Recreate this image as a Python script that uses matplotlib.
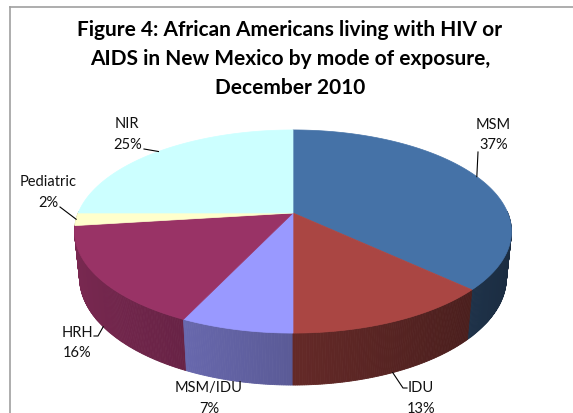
import numpy as np
import matplotlib
matplotlib.use("Agg")
import matplotlib.pyplot as plt
from matplotlib.patches import Polygon
import matplotlib.colors as mcolors

# ---------------- data ----------------
categories = ["MSM", "IDU", "MSM/IDU", "HRH", "Pediatric", "NIR"]
values = [37, 13, 7, 16, 2, 25]
colors = ["#4572A7", "#AA4643", "#9999FF", "#993366", "#FFFFCC", "#CCFFFF"]
title_lines = ["Figure 4: African Americans living with HIV or",
               "AIDS in New Mexico by mode of exposure,",
               "December 2010"]

# ---------------- layout ----------------
W, H = 573, 413
CX, CY = 293, 213          # screen position of pie centre (top face)
PHI = np.radians(27.2)     # elevation
S, C = np.sin(PHI), np.cos(PHI)
DIST = 4.879               # camera distance (in radii)
FOC = 1048                 # focal length in px
THICK = 0.243              # pie thickness (in radii)

# label layout: name pos, pct pos, leader start, elbow, rim for anchor
label_layout = {
    "MSM":       dict(name=(493, 125), pct=(494, 145), start=(478, 152), elbow=None, rim="top"),
    "IDU":       dict(name=(421, 388), pct=(421, 409), start=(407, 388), elbow=(403, 388), rim="bottom"),
    "MSM/IDU":   dict(name=(209, 388), pct=(209, 409), start=None, elbow=None, rim="bottom"),
    "HRH":       dict(name=(77.5, 333), pct=(77.5, 353), start=(94, 336), elbow=(98, 336), rim="bottom"),
    "Pediatric": dict(name=(48, 182), pct=(48, 203), start=(60, 207), elbow=None, rim="top"),
    "NIR":       dict(name=(127, 124), pct=(128, 145), start=(144, 149), elbow=None, rim="top"),
}

plt.rcParams["font.family"] = ["Lato", "DejaVu Sans"]

fig = plt.figure(figsize=(W / 100, H / 100), dpi=100)
ax = fig.add_axes([0, 0, 1, 1])
ax.set_xlim(0, W)
ax.set_ylim(H, 0)
ax.axis("off")


def proj(X, Y, Z):
    depth = DIST + Y * C - Z * S
    return CX + X * FOC / depth, CY - (Y * S + Z * C) * FOC / depth


def shade(col, f):
    r, g, b = mcolors.to_rgb(col)
    return (r * f, g * f, b * f)


total = float(sum(values))
starts, ends = [], []
a = 90.0
for v in values:
    starts.append(a)
    a -= 360.0 * v / total
    ends.append(a)

# ---- side walls (front half) ----
quads = []
for i, col in enumerate(colors):
    th = np.radians(np.linspace(starts[i], ends[i], max(4, int(abs(starts[i] - ends[i]) * 2))))
    for t0, t1 in zip(th[:-1], th[1:]):
        tm = 0.5 * (t0 + t1)
        if np.sin(tm) > 0.02:
            continue
        p = [proj(np.cos(t0), np.sin(t0), 0), proj(np.cos(t1), np.sin(t1), 0),
             proj(np.cos(t1), np.sin(t1), -THICK), proj(np.cos(t0), np.sin(t0), -THICK)]
        f = 0.38 + 0.42 * (1 - np.cos(tm)) / 2
        depth = np.sin(tm)
        quads.append((depth, p, shade(col, f)))
quads.sort(key=lambda q: -q[0])
for _, p, c in quads:
    ax.add_patch(Polygon(p, closed=True, facecolor=c, edgecolor=c, linewidth=0.6, zorder=2))

# ---- top faces ----
for i, col in enumerate(colors):
    th = np.radians(np.linspace(starts[i], ends[i], max(4, int(abs(starts[i] - ends[i]) * 2))))
    pts = [proj(0, 0, 0)] + [proj(np.cos(t), np.sin(t), 0) for t in th]
    ax.add_patch(Polygon(pts, closed=True, facecolor=col, edgecolor=col, linewidth=0.5, zorder=3))

# ---- labels & leader lines ----
for i, name in enumerate(categories):
    lay = label_layout[name]
    ax.text(*lay["name"], name, ha="center", va="center", fontsize=10.5, color="#111111", zorder=5)
    ax.text(*lay["pct"], f"{values[i]}%", ha="center", va="center", fontsize=10.5, color="#111111", zorder=5)
    if lay["start"] is not None:
        tm = np.radians(0.5 * (starts[i] + ends[i]))
        z = -THICK if lay["rim"] == "bottom" else 0
        anchor = proj(np.cos(tm), np.sin(tm), z)
        pts = [lay["start"]] + ([lay["elbow"]] if lay["elbow"] else []) + [anchor]
        xs, ys = zip(*pts)
        ax.plot(xs, ys, color="#000000", linewidth=0.8, zorder=6)

# ---- title ----
for k, line in enumerate(title_lines):
    ax.text(290, 30 + 29 * k, line, ha="center", va="center", fontsize=15,
            fontweight="bold", color="#000000", zorder=5)

# ---- chart frame ----
ax.plot([10, 10], [7, H + 5], color="#a0a0a0", linewidth=1.2, zorder=1)
ax.plot([10, W + 5], [7, 7], color="#a0a0a0", linewidth=1.2, zorder=1)

fig.savefig("out.png", dpi=100)
